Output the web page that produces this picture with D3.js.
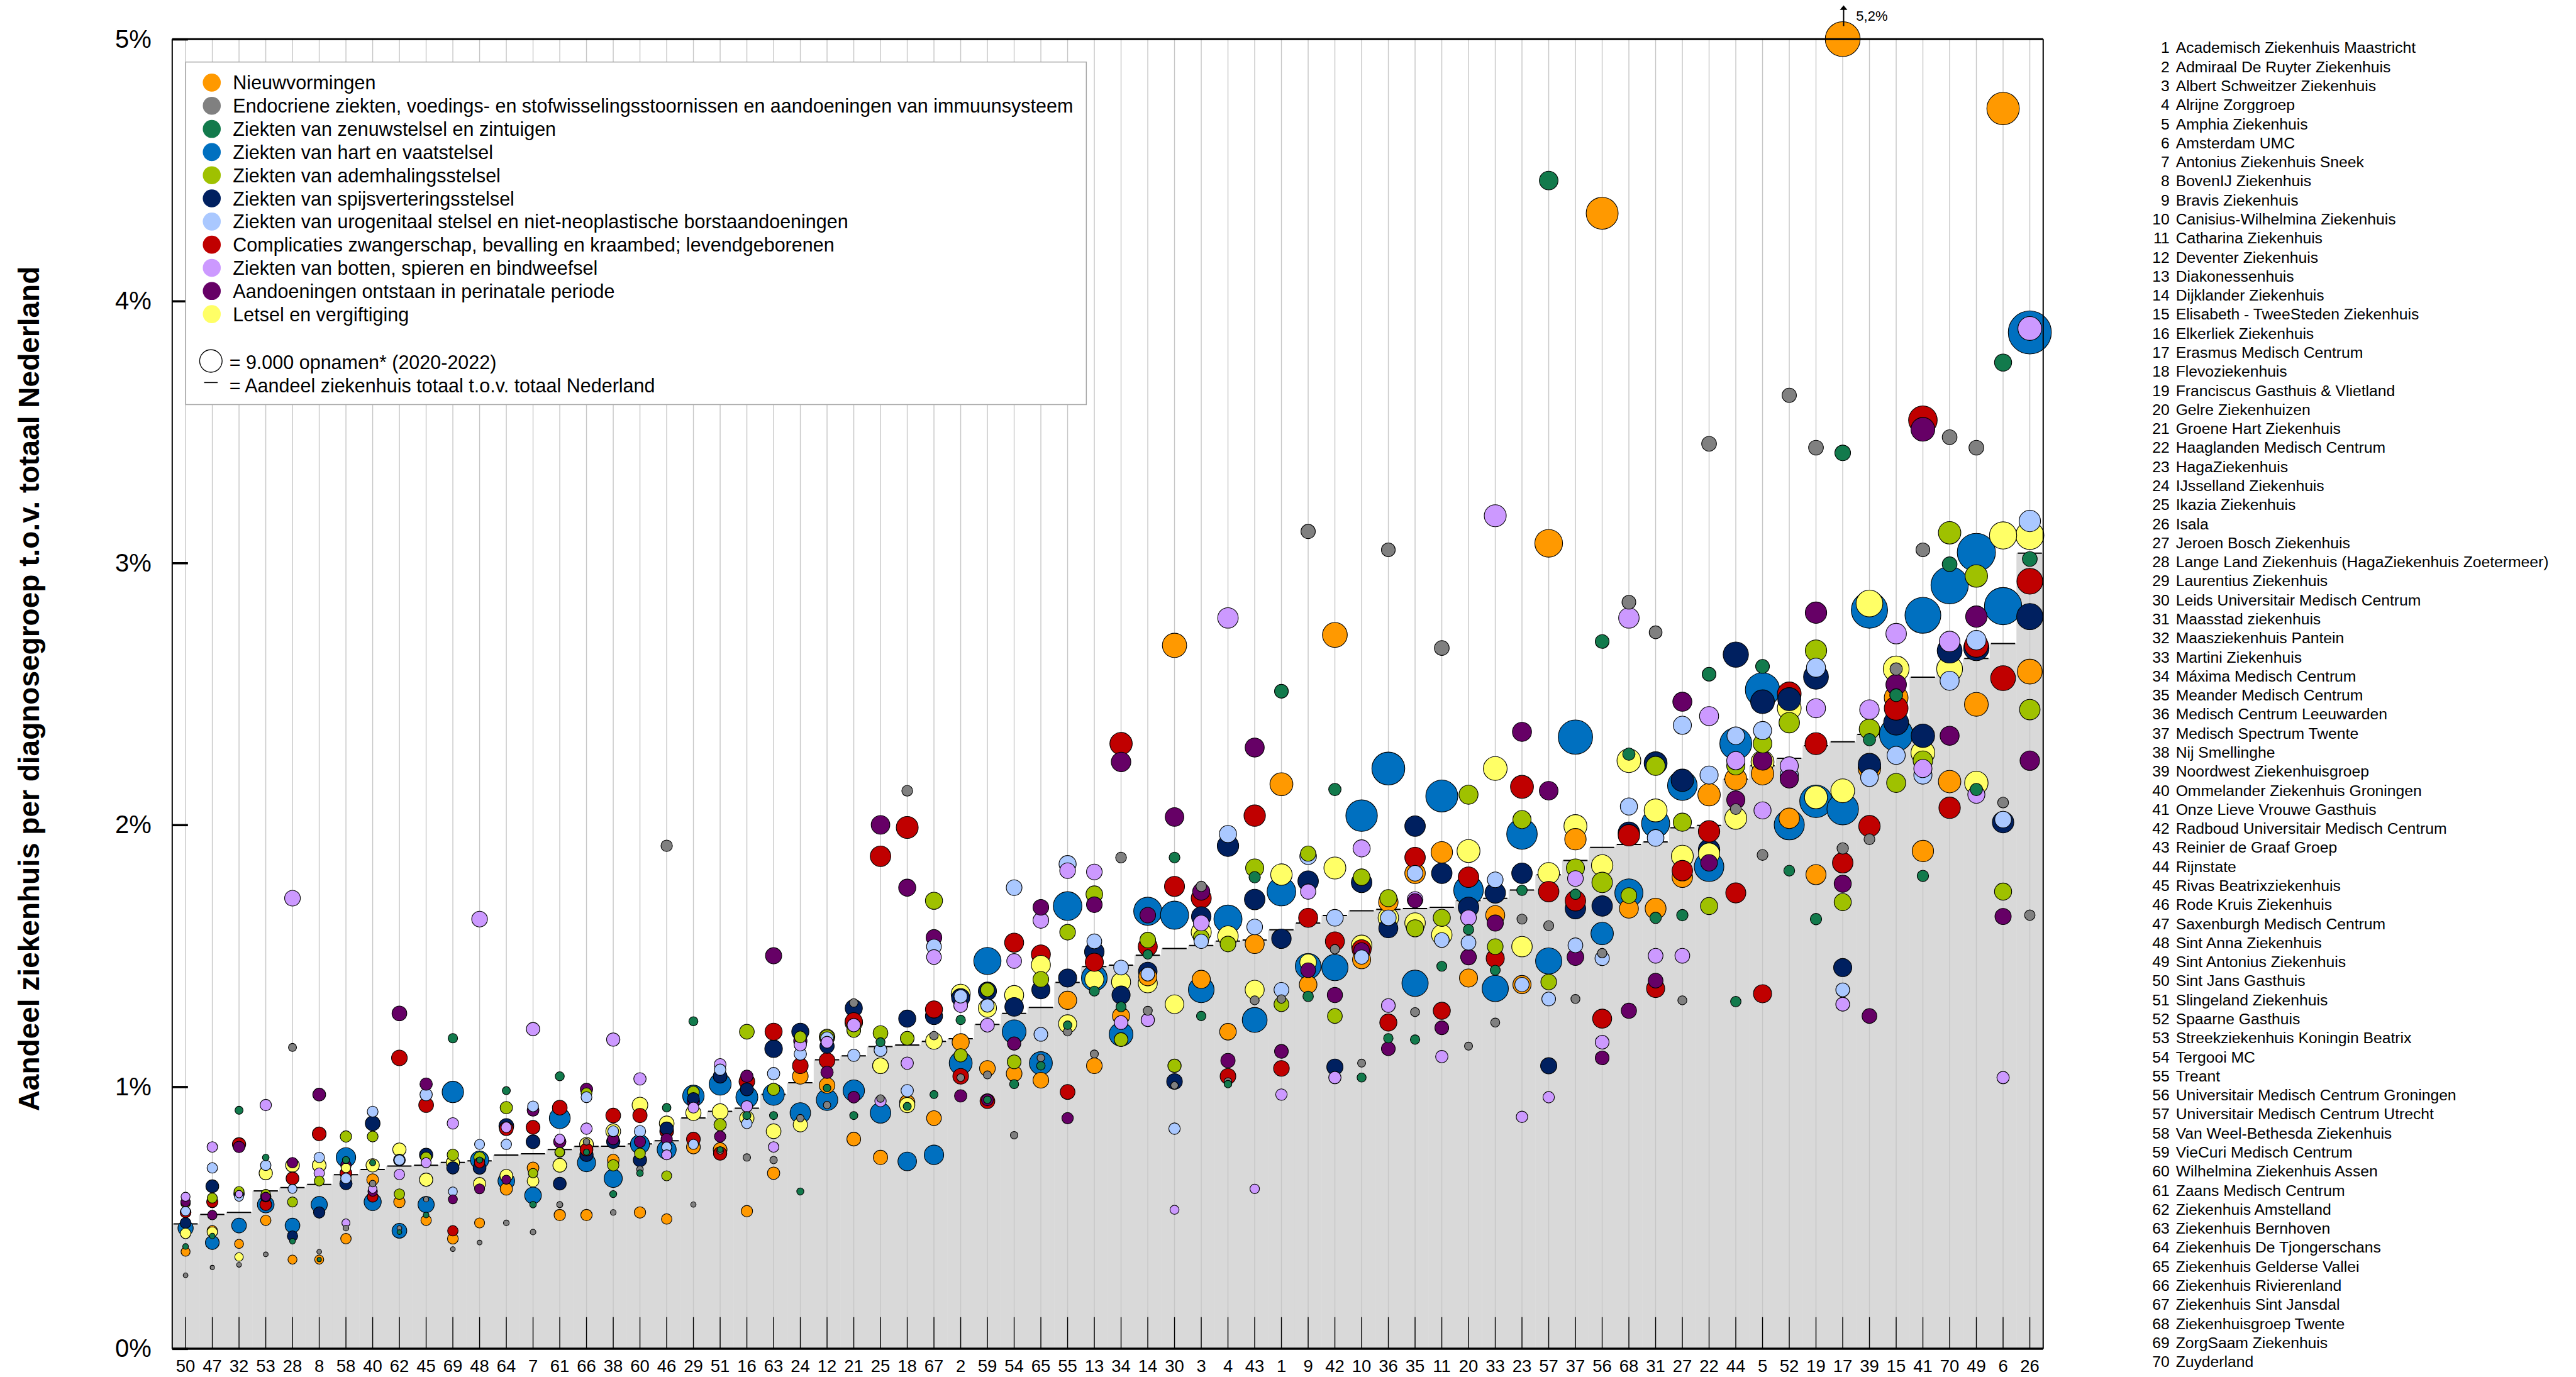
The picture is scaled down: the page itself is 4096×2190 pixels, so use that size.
<!DOCTYPE html>
<html>
<head>
<meta charset="utf-8">
<script src="https://cdn.jsdelivr.net/npm/d3@7"></script>
<style>
body { margin: 0; background: #fff; }
svg { display: block; }
text { font-family: "Liberation Sans", Arial, sans-serif; fill: #000; }
</style>
</head>
<body>
<svg width="4096" height="2190"></svg>
<script>
// Diagnosis groups (legend order) and their colours
const categories = [
	'Nieuwvormingen',
	'Endocriene ziekten, voedings- en stofwisselingsstoornissen en aandoeningen van immuunsysteem',
	'Ziekten van zenuwstelsel en zintuigen',
	'Ziekten van hart en vaatstelsel',
	'Ziekten van ademhalingsstelsel',
	'Ziekten van spijsverteringsstelsel',
	'Ziekten van urogenitaal stelsel en niet-neoplastische borstaandoeningen',
	'Complicaties zwangerschap, bevalling en kraambed; levendgeborenen',
	'Ziekten van botten, spieren en bindweefsel',
	'Aandoeningen ontstaan in perinatale periode',
	'Letsel en vergiftiging'
];
const colors = ['#FF9900', '#808080', '#127A4C', '#0070C0', '#9FC100', '#002060',
	'#AAC8FF', '#C00000', '#CC99FF', '#660066', '#FFFF66'];

// Hospitals, numbered 1..70
const hospitals = [
	'Academisch Ziekenhuis Maastricht', 'Admiraal De Ruyter Ziekenhuis', 'Albert Schweitzer Ziekenhuis',
	'Alrijne Zorggroep', 'Amphia Ziekenhuis', 'Amsterdam UMC', 'Antonius Ziekenhuis Sneek',
	'BovenIJ Ziekenhuis', 'Bravis Ziekenhuis', 'Canisius-Wilhelmina Ziekenhuis', 'Catharina Ziekenhuis',
	'Deventer Ziekenhuis', 'Diakonessenhuis', 'Dijklander Ziekenhuis', 'Elisabeth - TweeSteden Ziekenhuis',
	'Elkerliek Ziekenhuis', 'Erasmus Medisch Centrum', 'Flevoziekenhuis', 'Franciscus Gasthuis & Vlietland',
	'Gelre Ziekenhuizen', 'Groene Hart Ziekenhuis', 'Haaglanden Medisch Centrum', 'HagaZiekenhuis',
	'IJsselland Ziekenhuis', 'Ikazia Ziekenhuis', 'Isala', 'Jeroen Bosch Ziekenhuis',
	'Lange Land Ziekenhuis (HagaZiekenhuis Zoetermeer)', 'Laurentius Ziekenhuis',
	'Leids Universitair Medisch Centrum', 'Maasstad ziekenhuis', 'Maasziekenhuis Pantein',
	'Martini Ziekenhuis', 'Máxima Medisch Centrum', 'Meander Medisch Centrum',
	'Medisch Centrum Leeuwarden', 'Medisch Spectrum Twente', 'Nij Smellinghe',
	'Noordwest Ziekenhuisgroep', 'Ommelander Ziekenhuis Groningen', 'Onze Lieve Vrouwe Gasthuis',
	'Radboud Universitair Medisch Centrum', 'Reinier de Graaf Groep', 'Rijnstate',
	'Rivas Beatrixziekenhuis', 'Rode Kruis Ziekenhuis', 'Saxenburgh Medisch Centrum',
	'Sint Anna Ziekenhuis', 'Sint Antonius Ziekenhuis', 'Sint Jans Gasthuis', 'Slingeland Ziekenhuis',
	'Spaarne Gasthuis', 'Streekziekenhuis Koningin Beatrix', 'Tergooi MC', 'Treant',
	'Universitair Medisch Centrum Groningen', 'Universitair Medisch Centrum Utrecht',
	'Van Weel-Bethesda Ziekenhuis', 'VieCuri Medisch Centrum', 'Wilhelmina Ziekenhuis Assen',
	'Zaans Medisch Centrum', 'Ziekenhuis Amstelland', 'Ziekenhuis Bernhoven',
	'Ziekenhuis De Tjongerschans', 'Ziekenhuis Gelderse Vallei', 'Ziekenhuis Rivierenland',
	'Ziekenhuis Sint Jansdal', 'Ziekenhuisgroep Twente', 'ZorgSaam Ziekenhuis', 'Zuyderland'
];

// Column order on the x axis (hospital numbers)
const order = [50, 47, 32, 53, 28, 8, 58, 40, 62, 45, 69, 48, 64, 7, 61, 66, 38, 60, 46, 29,
	51, 16, 63, 24, 12, 21, 25, 18, 67, 2, 59, 54, 65, 55, 13, 34, 14, 30, 3, 4,
	43, 1, 9, 42, 10, 36, 35, 11, 20, 33, 23, 57, 37, 56, 68, 31, 27, 22, 44, 5,
	52, 19, 17, 39, 15, 41, 70, 49, 6, 26];

// Share of hospital in all admissions of NL (%), per column
const totals = [0.476, 0.512, 0.520, 0.602, 0.615, 0.627, 0.664, 0.684, 0.697, 0.700,
	0.711, 0.717, 0.739, 0.744, 0.760, 0.772, 0.773, 0.782, 0.794, 0.881,
	0.906, 0.918, 0.971, 1.015, 1.103, 1.118, 1.153, 1.159, 1.173, 1.183,
	1.238, 1.280, 1.303, 1.398, 1.459, 1.464, 1.502, 1.528, 1.539, 1.556,
	1.560, 1.599, 1.625, 1.654, 1.672, 1.677, 1.680, 1.685, 1.711, 1.719,
	1.751, 1.809, 1.864, 1.914, 1.925, 1.935, 1.989, 1.998, 2.174, 2.226,
	2.254, 2.302, 2.317, 2.345, 2.40, 2.564, 2.616, 2.635, 2.692, 3.037];

// Per diagnosis group: [share %, admissions x1000] per column
const nieuwvormingen = [[0.37,1.46],[0.45,1.96],[0.40,1.46],[0.49,1.96],[0.34,1.46],[0.34,1.46],[0.42,1.96],[0.645,2.5],[0.56,2.33],[0.49,1.96],
	[0.42,2.1],[0.48,1.8],[0.61,2.74],[0.69,2.5],[0.51,2.33],[0.51,2.33],[0.72,2.5],[0.52,2.33],[0.495,1.96],[0.77,3.4],
	[0.76,3.4],[0.525,2.33],[0.67,2.74],[1.04,4.4],[1.005,4.4],[0.80,3.4],[0.73,3.65],[0.94,4.15],[0.88,3.9],[1.17,5.25],
	[1.07,4.4],[1.05,4.4],[1.025,4.4],[1.33,5.9],[1.08,4.4],[1.27,5.25],[1.42,5.9],[2.685,10.5],[1.41,5.9],[1.21,4.96],
	[1.545,6.5],[2.155,9.4],[1.39,5.55],[2.725,11],[1.485,5.9],[1.705,6.8],[1.815,7.5],[1.895,8.2],[1.415,5.9],[1.655,6.5],
	[1.39,5.9],[3.075,13.7],[1.945,8.2],[4.335,18.2],[1.68,6.5],[1.68,7.8],[1.80,7.5],[2.115,9.0],[2.175,8.6],[2.195,9.0],
	[2.025,7.5],[1.81,7.2],[5.2,21.7],[2.215,9.0],[2.485,10.1],[1.90,8.2],[2.165,9.0],[2.46,10.1],[4.735,18.8],[2.585,11]];
const endocrien = [[0.28,0.41],[0.31,0.33],[0.32,0.41],[0.36,0.41],[1.15,1.17],[0.37,0.41],[0.46,0.58],[0.63,0.79],[0.46,0.41],[0.57,0.5],
	[0.38,0.41],[0.405,0.41],[0.48,0.58],[0.445,0.58],[0.55,0.68],[0.79,0.79],[0.52,0.58],[0.685,0.79],[1.92,2.33],[0.55,0.5],
	[0.755,0.79],[0.73,1.0],[0.72,1.0],[0.88,1.0],[0.93,1.0],[1.32,1.31],[0.955,1.04],[2.13,2.1],[1.195,1.31],[1.035,1.04],
	[1.045,1.17],[0.815,1.0],[1.11,1.04],[1.21,1.31],[1.125,1.17],[1.875,2.1],[1.29,1.46],[1.005,1.0],[1.765,1.96],[1.02,1.04],
	[1.33,1.46],[1.335,1.31],[3.12,3.65],[1.525,1.6],[1.09,1.17],[3.05,3.4],[1.285,1.46],[2.675,3.9],[1.155,1.17],[1.245,1.46],
	[1.64,1.8],[1.615,1.8],[1.335,1.46],[1.51,1.6],[2.85,3.4],[2.735,2.95],[1.33,1.46],[3.455,3.9],[2.06,2.1],[1.885,2.1],
	[3.64,3.65],[3.44,3.9],[1.91,2.33],[1.945,2.1],[2.595,2.74],[3.05,3.4],[3.48,3.9],[3.44,3.9],[2.085,2.1],[1.655,1.96]];
const zenuwstelsel = [[0.39,0.58],[0.43,0.58],[0.91,1.17],[0.73,0.79],[0.41,0.58],[0.34,0.33],[0.72,0.9],[0.71,0.68],[0.445,0.41],[0.51,0.58],
	[1.185,1.6],[0.72,0.68],[0.985,1.17],[0.55,0.79],[1.04,1.46],[0.75,0.68],[0.59,0.9],[0.67,0.79],[0.92,1.31],[1.25,1.46],
	[0.76,0.58],[0.89,1.17],[0.89,1.17],[0.60,0.9],[0.995,1.04],[0.89,1.17],[1.17,1.46],[0.925,1.17],[0.97,1.17],[1.255,1.6],
	[0.95,1.04],[1.01,1.46],[1.08,1.31],[1.235,1.31],[1.365,1.8],[1.305,1.8],[1.505,1.6],[1.875,2.1],[1.27,1.6],[1.01,1.04],
	[1.80,2.33],[2.51,3.4],[1.345,1.96],[2.135,2.74],[1.035,1.46],[1.185,1.6],[1.18,1.6],[1.46,1.8],[1.60,1.96],[1.445,1.8],
	[1.75,1.96],[4.46,6.2],[1.735,1.96],[2.70,3.4],[2.27,2.74],[1.645,2.33],[1.655,2.33],[2.575,3.4],[1.325,1.96],[2.605,3.4],
	[1.825,2.1],[1.64,2.33],[3.42,4.4],[2.325,2.74],[2.495,2.95],[1.805,2.33],[2.995,3.9],[2.135,2.74],[3.765,5.25],[3.015,3.9]];
const hartvaat = [[0.46,4.15],[0.405,3.4],[0.47,3.9],[0.55,4.96],[0.47,3.9],[0.55,4.7],[0.73,6.8],[0.56,5.25],[0.45,3.9],[0.55,4.7],
	[0.98,8.2],[0.72,5.9],[0.64,4.96],[0.585,4.96],[0.88,7.8],[0.71,5.9],[0.65,5.9],[0.78,6.5],[0.76,6.5],[0.965,8.2],
	[1.01,8.6],[0.96,8.6],[0.97,8.2],[0.90,7.5],[0.95,8.2],[0.985,8.2],[0.90,7.5],[0.715,6.2],[0.74,6.8],[1.09,9.4],
	[1.48,13.2],[1.21,10.1],[1.09,9.4],[1.69,14.6],[1.415,11.8],[1.20,10.1],[1.67,14.1],[1.655,14.1],[1.37,11.8],[1.64,14.1],
	[1.255,11],[1.745,14.6],[1.46,11.8],[1.455,12.3],[2.035,17.7],[2.215,19.3],[1.395,12.3],[2.11,18.2],[1.75,15.6],[1.375,12.3],
	[1.965,16.6],[1.48,12.3],[2.335,21],[1.585,9.0],[1.74,14.1],[2.005,14.1],[2.15,15.6],[1.84,15.6],[2.31,18.2],[2.515,21],
	[2.0,16.2],[2.09,18.8],[2.06,17.7],[2.82,23.5],[2.345,20],[2.80,22.9],[2.915,24.8],[3.04,26],[2.835,24.8],[3.88,33]];
const ademhaling = [[0.555,1.6],[0.575,1.8],[0.60,1.8],[0.59,1.6],[0.56,1.8],[0.64,1.8],[0.81,2.33],[0.81,2.1],[0.59,1.96],[0.73,2.1],
	[0.74,2.33],[0.73,2.33],[0.92,2.74],[0.67,1.6],[0.75,1.6],[0.975,2.1],[0.70,2.33],[0.745,2.1],[0.66,1.8],[0.98,2.5],
	[0.855,2.74],[1.21,3.9],[0.99,2.74],[1.19,2.5],[1.19,3.65],[1.215,3.4],[1.205,3.9],[1.185,3.4],[1.71,5.25],[1.12,3.18],
	[1.37,3.4],[1.095,3.4],[1.41,4.4],[1.59,4.4],[1.735,4.96],[1.18,3.4],[1.56,4.4],[1.08,3.18],[1.57,4.4],[1.545,4.4],
	[1.835,5.9],[1.315,3.9],[1.89,4.15],[1.27,3.9],[1.80,4.96],[1.72,5.25],[1.605,5.25],[1.645,5.25],[2.115,6.5],[1.535,4.4],
	[2.02,5.9],[1.40,4.4],[1.835,5.9],[1.78,7.5],[1.73,4.4],[2.225,6.5],[2.01,5.9],[1.69,5.25],[2.225,5.9],[2.31,6.2],
	[2.39,7.5],[2.665,8.2],[1.705,5.25],[2.365,7.5],[2.16,6.5],[2.245,6.8],[3.115,9.0],[2.95,9.0],[1.745,5.25],[2.44,7.5]];
const spijsvertering = [[0.48,2.1],[0.62,2.95],[0.59,1.96],[0.58,1.96],[0.43,1.96],[0.52,2.33],[0.63,2.74],[0.86,3.9],[0.72,2.5],[0.74,3.18],
	[0.69,2.74],[0.69,2.95],[0.85,3.9],[0.79,3.4],[0.63,2.95],[0.74,3.18],[0.79,3.18],[0.72,3.18],[0.84,3.18],[0.955,2.5],
	[1.04,3.4],[0.99,3.0],[1.145,5.55],[1.21,5.25],[1.155,3.65],[1.30,5.25],[1.08,4.4],[1.26,5.25],[1.27,5.25],[1.34,5.9],
	[1.365,5.9],[1.305,6.2],[1.37,5.9],[1.415,5.9],[1.515,6.8],[1.35,5.9],[1.44,6.2],[1.02,4.4],[1.65,6.8],[1.92,8.2],
	[1.715,7.5],[1.565,6.8],[1.785,7.5],[1.075,4.7],[1.78,7.5],[1.605,6.5],[1.995,7.5],[1.815,7.5],[1.685,7.5],[1.74,7.5],
	[1.815,7.5],[1.08,4.7],[1.68,7.5],[1.69,7.5],[1.97,8.2],[2.235,9.4],[2.17,9.0],[1.905,8.2],[2.65,11.4],[2.47,10.1],
	[2.48,9.4],[2.565,11],[1.455,5.9],[2.23,9.0],[2.39,11],[2.34,9.8],[2.665,11],[2.675,11.4],[2.01,8.2],[2.795,12.3]];
const urogenitaal = [[0.525,1.6],[0.69,1.96],[0.58,1.46],[0.70,1.96],[0.61,1.46],[0.73,1.96],[0.65,1.96],[0.905,2.1],[0.72,1.96],[0.97,2.74],
	[0.60,1.46],[0.78,1.8],[0.78,1.96],[0.925,2.1],[0.75,1.8],[0.96,2.1],[0.83,2.1],[0.83,2.33],[0.77,1.8],[0.78,1.8],
	[1.065,2.33],[0.86,1.96],[1.05,2.74],[1.125,2.74],[1.185,2.95],[1.12,2.74],[1.14,2.95],[0.985,2.74],[1.535,3.9],[1.345,3.18],
	[1.31,3.18],[1.76,4.4],[1.20,3.4],[1.85,5.25],[1.555,3.9],[1.455,3.9],[1.43,3.4],[0.84,2.33],[1.555,3.65],[1.965,5.25],
	[1.61,4.4],[1.37,3.9],[1.88,4.96],[1.645,4.96],[1.495,3.65],[1.645,4.4],[1.815,4.4],[1.56,3.9],[1.55,3.9],[1.79,4.4],
	[1.39,3.65],[1.335,3.4],[1.54,3.9],[1.49,3.65],[2.07,5.25],[1.95,4.96],[2.38,5.9],[2.19,5.9],[2.34,5.55],[2.36,5.9],
	[2.19,5.9],[2.60,6.5],[1.37,3.4],[2.18,5.55],[2.265,5.9],[2.19,5.9],[2.55,6.5],[2.705,6.8],[2.02,4.96],[3.16,8.2]];
const zwangerschap = [[0.52,2.1],[0.56,2.3],[0.78,3.18],[0.55,2.5],[0.65,2.95],[0.82,3.4],[0.67,2.5],[0.58,2.1],[1.11,4.4],[0.93,3.9],
	[0.45,1.96],[0.71,1.96],[0.84,3.4],[0.845,3.4],[0.92,3.9],[0.76,2.95],[0.89,3.9],[0.89,3.65],[0.83,3.4],[0.80,3.4],
	[0.745,3.18],[1.02,4.4],[1.21,5.25],[1.08,4.4],[1.10,4.4],[1.25,5.25],[1.88,7.5],[1.99,8.6],[1.295,5.25],[1.04,4.4],
	[0.945,3.9],[1.55,6.5],[1.505,6.5],[0.98,3.9],[1.475,5.9],[2.31,8.95],[1.535,6.5],[1.765,7.2],[1.72,7.2],[1.04,4.4],
	[2.035,8.2],[1.07,4.4],[1.645,6.5],[1.555,6.5],[1.525,6.5],[1.245,5.25],[1.875,7.5],[1.29,5.25],[1.80,7.5],[1.49,5.9],
	[2.145,9.4],[1.745,7.5],[1.71,7.5],[1.26,6.5],[1.96,8.2],[1.375,5.9],[1.825,7.5],[1.975,8.2],[1.74,7.2],[1.355,5.9],
	[2.50,10.1],[2.31,8.6],[1.855,7.5],[1.995,8.2],[2.445,10.1],[3.545,14.6],[2.065,8.2],[2.685,10.1],[2.56,11],[2.93,11.9]];
const botten = [[0.58,1.46],[0.77,1.96],[0.59,1.0],[0.93,2.33],[1.72,4.4],[0.67,1.96],[0.48,1.17],[0.61,1.31],[0.665,1.96],[0.71,1.8],
	[0.86,2.33],[1.64,4.4],[0.845,1.96],[1.22,3.18],[0.80,1.8],[0.84,2.33],[1.18,3.18],[1.03,2.74],[0.74,1.8],[0.92,2.1],
	[1.085,2.5],[0.925,2.33],[0.77,1.96],[1.16,2.74],[1.17,2.5],[1.235,3.18],[0.945,2.33],[1.09,2.74],[1.495,3.9],[1.31,3.4],
	[1.235,3.4],[1.48,3.9],[1.635,4.4],[1.825,4.4],[1.82,4.4],[1.245,3.4],[1.255,3.18],[0.53,1.46],[1.625,4.4],[2.79,7.5],
	[0.61,1.6],[0.97,2.33],[1.745,4.15],[1.035,2.74],[1.91,5.25],[1.31,3.4],[1.715,4.4],[1.115,2.74],[1.645,4.4],[3.18,8.6],
	[0.885,2.33],[0.96,2.33],[1.795,4.4],[1.17,3.4],[2.79,7.5],[1.50,3.9],[1.50,3.9],[2.415,6.5],[2.245,5.9],[2.055,5.25],
	[2.225,5.9],[2.445,6.5],[1.315,3.4],[2.44,6.8],[2.73,7.5],[2.215,5.9],[2.70,7.5],[2.115,5.25],[1.035,2.74],[3.895,10.1]];
const perinataal = [[0.56,1.6],[0.51,1.6],[0.77,2.33],[0.58,1.46],[0.71,1.96],[0.97,2.95],[0.70,1.96],[0.60,1.6],[1.28,3.9],[1.01,2.74],
	[0.57,1.46],[0.61,1.8],[0.645,1.46],[0.91,2.5],[0.79,2.74],[0.99,2.74],[0.80,2.33],[0.79,2.33],[0.80,2.33],[0.945,2.74],
	[0.81,2.33],[1.04,2.74],[1.50,4.7],[1.175,3.18],[1.055,2.74],[0.96,2.5],[2.00,6.2],[1.76,5.25],[1.57,4.4],[0.965,2.74],
	[0.95,2.5],[1.165,3.18],[1.685,4.4],[0.88,2.33],[1.695,4.4],[2.24,6.8],[1.655,4.4],[2.03,6.2],[1.745,5.25],[1.10,3.65],
	[2.295,6.5],[1.135,3.4],[1.445,3.9],[1.35,4.15],[1.52,4.4],[1.145,3.4],[1.71,3.65],[1.225,3.4],[1.495,4.4],[1.625,4.7],
	[2.355,6.5],[2.13,6.2],[1.495,4.96],[1.11,3.4],[1.29,4.15],[1.405,3.9],[2.47,6.5],[1.855,4.96],[2.095,5.9],[2.245,6.5],
	[2.175,5.9],[2.81,8.2],[1.775,5.25],[1.27,3.9],[2.535,7.5],[3.51,10.1],[2.34,6.5],[2.795,8.2],[1.65,4.7],[2.245,6.8]];
const letsel = [[0.44,1.96],[0.445,1.96],[0.35,1.31],[0.67,3.18],[0.70,3.4],[0.70,3.4],[0.69,1.6],[0.70,3.18],[0.76,3.18],[0.645,3.18],
	[0.71,3.18],[0.63,2.74],[0.66,2.95],[0.64,2.5],[0.70,3.4],[0.78,3.4],[0.83,3.9],[0.93,4.4],[0.86,3.9],[0.90,4.15],
	[0.905,4.4],[0.88,3.65],[0.83,3.9],[0.855,3.65],[1.19,4.4],[1.245,5.55],[1.08,4.4],[0.93,4.15],[1.175,4.96],[1.355,6.5],
	[1.30,5.9],[1.35,6.5],[1.465,6.5],[1.24,5.9],[1.41,6.5],[1.40,6.5],[1.395,6.5],[1.315,6.2],[1.59,7.2],[1.575,7.5],
	[1.37,6.5],[1.81,8.2],[1.475,4.96],[1.835,8.6],[1.54,7.5],[1.645,7.5],[1.625,7.5],[1.58,7.5],[1.90,9.4],[2.215,10.1],
	[1.535,7.5],[1.815,8.2],[1.995,9.4],[1.845,8.2],[2.245,10.1],[2.055,9.4],[1.88,8.6],[1.89,8.0],[2.025,8.6],[2.24,9.4],
	[2.445,10.1],[2.105,9.4],[2.13,10.1],[2.845,12.8],[2.595,11.9],[2.275,10.1],[2.595,11.9],[2.16,9.8],[3.105,13.2],[3.105,14.1]];

const series = [nieuwvormingen, endocrien, zenuwstelsel, hartvaat, ademhaling, spijsvertering,
	urogenitaal, zwangerschap, botten, perinataal, letsel];

const yTicks = [0, 1, 2, 3, 4, 5];
const yMax = 5;

// ---------------------------------------------------------------
const S = 4096 / 5729; // reference -> window scale
const svg = d3.select('svg');
svg.append('rect').attr('width', 4096).attr('height', 2190).attr('fill', '#fff');

const plot = { left: 383 * S, right: 4544 * S, top: 87 * S, bottom: 3000 * S };

const x = d3.scaleBand().domain(order).range([plot.left, plot.right]);
const y = d3.scaleLinear().domain([0, yMax]).range([plot.bottom, plot.top]);
const r = d3.scaleSqrt().domain([0, 9]).range([0, 25 * S]); // 9.000 opnamen
const bw = x.bandwidth();
const cx = id => x(id) + bw / 2;

// Grey step area: hospital total share
const g = svg.append('g');
g.selectAll('rect.total')
	.data(order)
	.join('rect')
	.attr('class', 'total')
	.attr('x', d => x(d))
	.attr('width', bw + 0.5)
	.attr('y', (d, i) => y(totals[i]))
	.attr('height', (d, i) => y(0) - y(totals[i]))
	.attr('fill', '#D9D9D9');

// vertical grid lines
g.selectAll('line.grid')
	.data(order)
	.join('line')
	.attr('x1', cx).attr('x2', cx)
	.attr('y1', plot.top).attr('y2', plot.bottom)
	.attr('stroke', '#C6C6C6')
	.attr('stroke-width', 1.4);

// short black ticks at bottom
g.selectAll('line.btick')
	.data(order)
	.join('line')
	.attr('x1', cx).attr('x2', cx)
	.attr('y1', plot.bottom).attr('y2', plot.bottom - 70 * S)
	.attr('stroke', '#000')
	.attr('stroke-width', 1.4);

// dash at total share
g.selectAll('line.dash')
	.data(order)
	.join('line')
	.attr('x1', d => x(d) + 2).attr('x2', d => x(d) + bw - 2)
	.attr('y1', (d, i) => y(totals[i])).attr('y2', (d, i) => y(totals[i]))
	.attr('stroke', '#000')
	.attr('stroke-width', 2);

// Bubbles: all groups, larger ones behind
let bubbles = [];
series.forEach((arr, c) => {
	arr.forEach((p, i) => {
		bubbles.push({ id: order[i], cat: c, v: p[0], n: p[1] });
	});
});
bubbles.sort((a, b) => b.n - a.n);

svg.append('g')
	.selectAll('circle')
	.data(bubbles)
	.join('circle')
	.attr('cx', d => cx(d.id))
	.attr('cy', d => y(Math.min(d.v, yMax)))
	.attr('r', d => r(d.n))
	.attr('fill', d => colors[d.cat])
	.attr('stroke', '#000')
	.attr('stroke-width', 1.1);

// Axes frame
const frame = svg.append('g');
frame.append('line').attr('x1', plot.left).attr('x2', plot.left).attr('y1', plot.top).attr('y2', plot.bottom)
	.attr('stroke', '#000').attr('stroke-width', 2);
frame.append('line').attr('x1', plot.right).attr('x2', plot.right).attr('y1', plot.top).attr('y2', plot.bottom)
	.attr('stroke', '#000').attr('stroke-width', 2);
frame.append('line').attr('x1', plot.left).attr('x2', plot.right).attr('y1', plot.top).attr('y2', plot.top)
	.attr('stroke', '#000').attr('stroke-width', 3);
frame.append('line').attr('x1', plot.left).attr('x2', plot.right).attr('y1', plot.bottom).attr('y2', plot.bottom)
	.attr('stroke', '#000').attr('stroke-width', 3.5);

// y axis
const yAxis = svg.append('g')
	.attr('transform', 'translate(' + plot.left + ',0)')
	.call(d3.axisLeft(y).tickValues(yTicks).tickFormat(d => d + '%').tickSizeInner(-35 * S).tickSizeOuter(0).tickPadding(33));
yAxis.select('.domain').remove();
yAxis.selectAll('line').attr('stroke', '#000').attr('stroke-width', 3.5);
yAxis.selectAll('text').attr('font-size', 40).attr('font-family', '"Liberation Sans", Arial, sans-serif');

// x axis labels
const xAxis = svg.append('g')
	.attr('transform', 'translate(0,' + plot.bottom + ')')
	.call(d3.axisBottom(x).tickSize(0).tickPadding(18));
xAxis.select('.domain').remove();
xAxis.selectAll('text').attr('font-size', 27.5).attr('font-family', '"Liberation Sans", Arial, sans-serif');

// y axis title
svg.append('text')
	.attr('transform', 'translate(' + (64 * S) + ',' + ((plot.top + plot.bottom) / 2 - 8) + ') rotate(-90)')
	.attr('text-anchor', 'middle')
	.attr('dominant-baseline', 'central')
	.attr('font-size', 46)
	.attr('font-weight', 'bold')
	.text('Aandeel ziekenhuis per diagnosegroep t.o.v. totaal Nederland');

// 5,2% annotation (clipped bubble of hospital 17)
const ax = cx(17) + 2 * S;
svg.append('line').attr('x1', ax).attr('x2', ax).attr('y1', 58 * S).attr('y2', 20 * S)
	.attr('stroke', '#000').attr('stroke-width', 2);
svg.append('path')
	.attr('d', 'M' + (ax - 6) + ',' + (22 * S) + 'L' + ax + ',' + (12 * S) + 'L' + (ax + 6) + ',' + (22 * S) + 'Z')
	.attr('fill', '#000');
svg.append('text').attr('x', 4128 * S).attr('y', 33).attr('font-size', 22).text('5,2%');

// Legend
const lg = svg.append('g');
lg.append('rect')
	.attr('x', 413 * S).attr('y', 138 * S)
	.attr('width', (2416 - 413) * S).attr('height', (900 - 138) * S)
	.attr('fill', '#fff').attr('stroke', '#A6A6A6').attr('stroke-width', 1.5);
const rowY = k => (183.8 + k * 51.5) * S;
lg.selectAll('circle.key')
	.data(categories)
	.join('circle')
	.attr('cx', 471 * S).attr('cy', (d, k) => rowY(k)).attr('r', 20 * S)
	.attr('fill', (d, k) => colors[k]);
lg.selectAll('text.key')
	.data(categories)
	.join('text')
	.attr('x', 518 * S).attr('y', (d, k) => rowY(k))
	.attr('dominant-baseline', 'central')
	.attr('font-size', 30.5)
	.text(d => d);
lg.append('circle').attr('cx', 469 * S).attr('cy', 803 * S).attr('r', r(9))
	.attr('fill', '#fff').attr('stroke', '#000').attr('stroke-width', 1.3);
lg.append('text').attr('x', 510 * S).attr('y', 805 * S).attr('dominant-baseline', 'central')
	.attr('font-size', 30.5).text('= 9.000 opnamen* (2020-2022)');
lg.append('line').attr('x1', 454 * S).attr('x2', 484 * S).attr('y1', 851 * S).attr('y2', 851 * S)
	.attr('stroke', '#000').attr('stroke-width', 1.5);
lg.append('text').attr('x', 510 * S).attr('y', 857 * S).attr('dominant-baseline', 'central')
	.attr('font-size', 30.5).text('= Aandeel ziekenhuis totaal t.o.v. totaal Nederland');

// Hospital list on the right
const list = svg.append('g');
list.selectAll('text.num')
	.data(hospitals)
	.join('text')
	.attr('x', 4825 * S)
	.attr('y', (d, i) => (118 + i * 42.36) * S)
	.attr('text-anchor', 'end')
	.attr('font-size', 24.7)
	.text((d, i) => i + 1);
list.selectAll('text.name')
	.data(hospitals)
	.join('text')
	.attr('x', 4839 * S)
	.attr('y', (d, i) => (118 + i * 42.36) * S)
	.attr('font-size', 24.7)
	.text(d => d);
</script>
</body>
</html>
